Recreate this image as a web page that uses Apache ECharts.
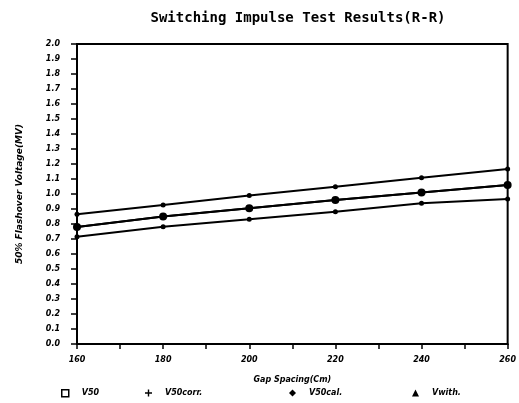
<!DOCTYPE html>
<html>
<head>
<meta charset="utf-8">
<script src="https://cdn.jsdelivr.net/npm/echarts@6/dist/echarts.min.js"></script>
<style>
  html, body { margin: 0; padding: 0; background: #fff; }
  #chart { width: 519px; height: 403px; }
</style>
</head>
<body>
<div id="chart"></div>
<script>
// gap spacing (cm)
const gapSpacing = [160, 180, 200, 220, 240, 260];
// flashover voltages (MV)
const v50 = [0.78, 0.85, 0.905, 0.96, 1.01, 1.06];
const v50corr = [0.78, 0.85, 0.905, 0.96, 1.01, 1.06];
const v50cal = [0.865, 0.927, 0.99, 1.049, 1.109, 1.167];
const vwith = [0.715, 0.782, 0.831, 0.882, 0.938, 0.967];

const font = '"DejaVu Sans", sans-serif';
const plus = 'path://M4,0 L6,0 L6,4 L10,4 L10,6 L6,6 L6,10 L4,10 L4,6 L0,6 L0,4 L4,4 Z';

function pairs(arr) {
  return gapSpacing.map((x, i) => [x, arr[i]]);
}

function lineSeries(name, data, size) {
  return {
    name: name,
    type: 'line',
    data: pairs(data),
    symbol: 'circle',
    symbolSize: size,
    lineStyle: { color: '#000', width: 2 },
    itemStyle: { color: '#000' }
  };
}

function legendAt(name, icon, left, itemStyle) {
  return {
    left: left,
    top: 389,
    padding: 0,
    itemWidth: 7,
    itemHeight: 7,
    itemGap: 0,
    data: [{ name: name, icon: icon, itemStyle: itemStyle }],
    textStyle: { fontFamily: font, fontWeight: 'bold', fontStyle: 'italic', fontSize: 8, color: '#000', padding: [0, 0, 0, 8] }
  };
}

const chart = echarts.init(document.getElementById('chart'));
chart.setOption({
  animation: false,
  title: {
    text: 'Switching Impulse Test Results(R-R)',
    left: 293,
    textAlign: 'center',
    top: 6,
    textStyle: { fontFamily: '"DejaVu Sans Mono", monospace', fontWeight: 'bold', fontSize: 14, color: '#000' }
  },
  legend: [
    legendAt('V50', 'rect', 61, { color: '#fff', borderColor: '#000', borderWidth: 1.5 }),
    legendAt('V50corr.', plus, 145),
    legendAt('V50cal.', 'diamond', 289),
    legendAt('Vwith.', 'triangle', 412)
  ],
  grid: { left: 77, right: 11, top: 44, bottom: 59, show: true, borderColor: '#000', borderWidth: 2 },
  xAxis: {
    type: 'value',
    min: 160,
    max: 260,
    interval: 20,
    name: 'Gap Spacing(Cm)',
    nameLocation: 'middle',
    nameGap: 32,
    nameTextStyle: { fontFamily: font, fontWeight: 'bold', fontStyle: 'italic', fontSize: 8, color: '#000' },
    axisLine: { lineStyle: { color: '#000', width: 2 } },
    axisTick: { length: 5, lineStyle: { color: '#000', width: 1.5 } },
    minorTick: { show: true, splitNumber: 2, length: 5, lineStyle: { color: '#000', width: 1.5 } },
    splitLine: { show: false },
    axisLabel: { margin: 12, fontFamily: font, fontWeight: 'bold', fontStyle: 'italic', fontSize: 8, color: '#000' }
  },
  yAxis: {
    type: 'value',
    min: 0,
    max: 2,
    interval: 0.1,
    name: '50% Flashover Voltage(MV)',
    nameLocation: 'middle',
    nameGap: 53,
    nameTextStyle: { fontFamily: font, fontWeight: 'bold', fontStyle: 'italic', fontSize: 9, color: '#000' },
    axisLine: { show: true, lineStyle: { color: '#000', width: 2 } },
    axisTick: { show: true, length: 6, lineStyle: { color: '#000', width: 1.5 } },
    splitLine: { show: false },
    axisLabel: {
      margin: 17,
      formatter: v => v.toFixed(1),
      fontFamily: font, fontWeight: 'bold', fontStyle: 'italic', fontSize: 8, color: '#000'
    }
  },
  series: [
    lineSeries('V50', v50, 8),
    lineSeries('V50corr.', v50corr, 5),
    lineSeries('V50cal.', v50cal, 5),
    lineSeries('Vwith.', vwith, 5)
  ]
});
</script>
</body>
</html>
